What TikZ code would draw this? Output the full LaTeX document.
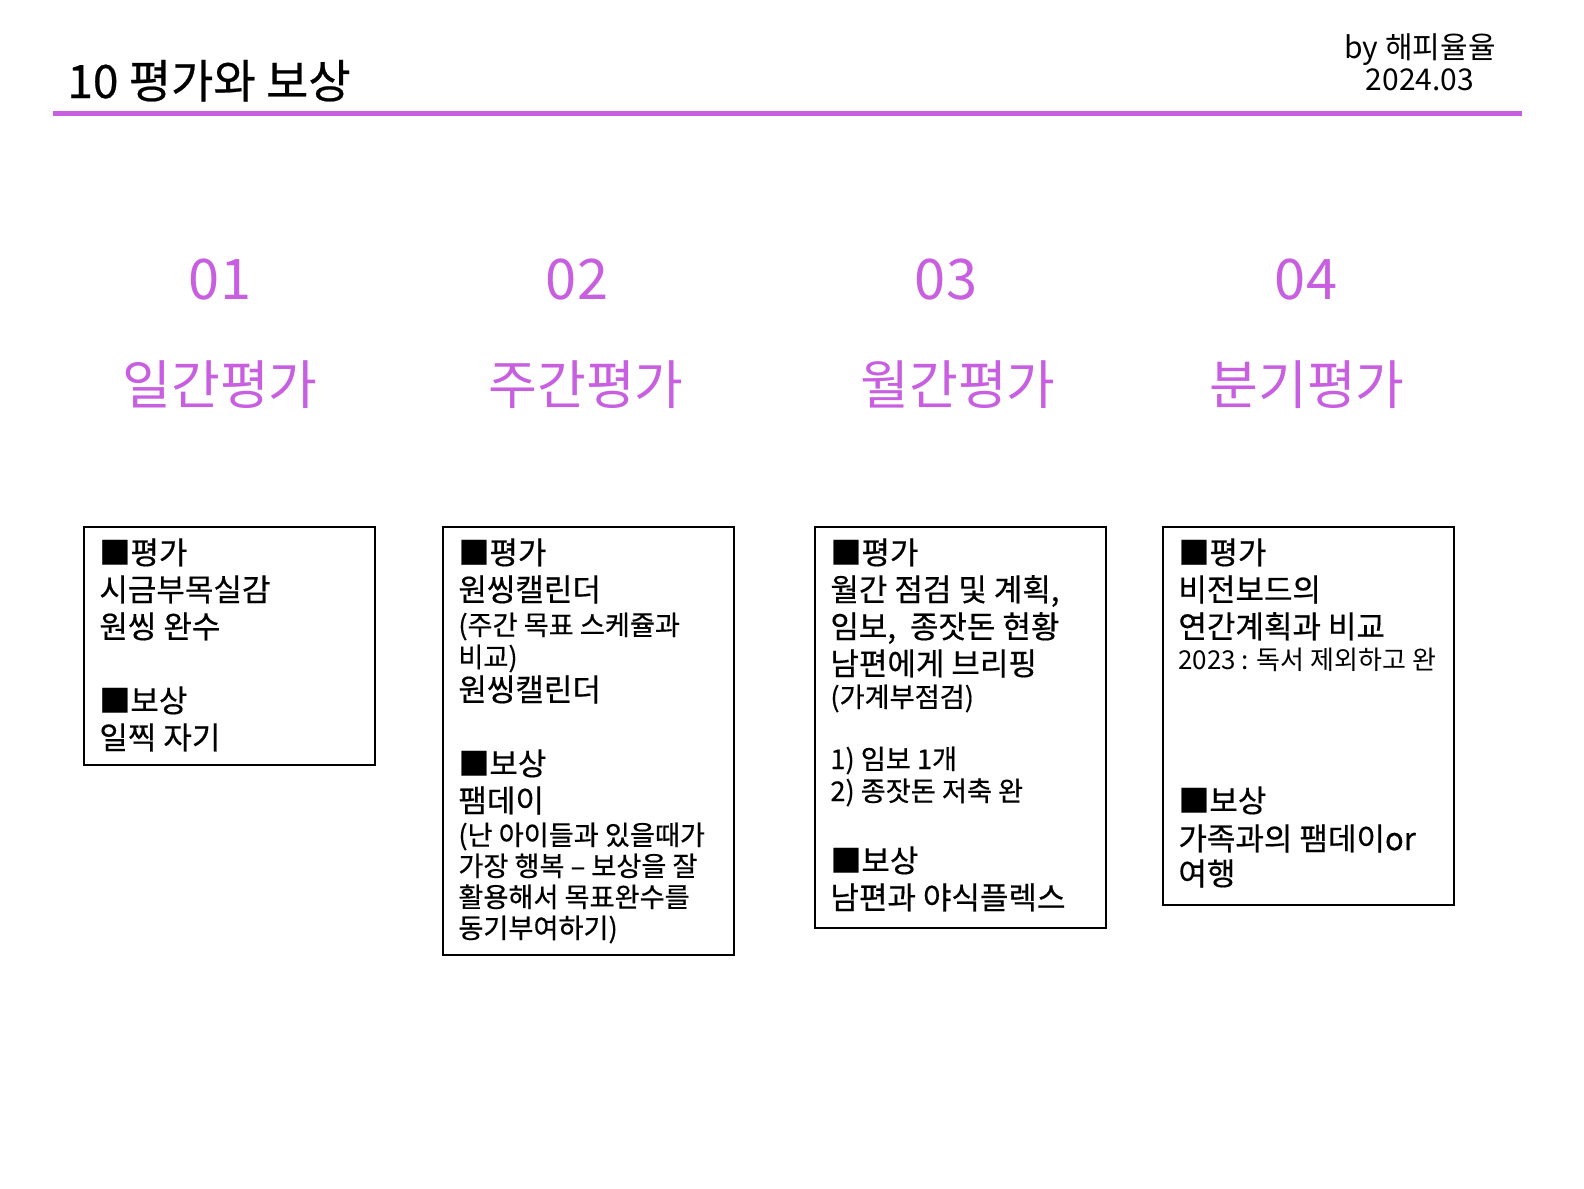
\documentclass[tikz,border=0pt]{standalone}
\usepackage{fontspec}
\setmainfont{Noto Sans CJK KR}
\newfontfamily\cardfont{Noto Sans CJK KR}[FakeBold=0.5]
\usetikzlibrary{positioning}
\definecolor{headpurple}{RGB}{200,95,225}
\tikzstyle{card}=[%
  draw,
  line width=0.8pt,
  anchor=north west,
  minimum width=145.5pt,
  inner sep=0pt
]
\tikzstyle{cardtext}=[%
  anchor=north west,
  align=left,
  inner sep=0pt,
  font=\cardfont\fontsize{15.5pt}{18.5pt}\selectfont
]
\tikzstyle{number}=[text=headpurple, font=\fontsize{28pt}{30pt}\selectfont]
\tikzstyle{heading}=[text=headpurple, font=\fontsize{26.5pt}{28pt}\selectfont]
\newcommand{\sm}[1]{{\fontsize{13.6pt}{16pt}\selectfont #1}}

\begin{document}
\begin{tikzpicture}[x=0.5pt, y=-0.5pt]
      \useasboundingbox[fill=white] (0,0) rectangle (1584,1188);
      % header
      \node[anchor=base west, inner sep=0pt, font=\cardfont\fontsize{23pt}{24pt}\selectfont] (title) at (67,98) {10 평가와 보상};
      \node[align=center, inner sep=0pt, font=\fontsize{15pt}{16pt}\selectfont] (sign) at (1420,62) {by 해피율율\\2024.03};
      \coordinate (ruleL) at (53,114);
      \coordinate (ruleR) at (1522,114);
      \draw[headpurple, line width=2.5pt] (ruleL) -- (ruleR);
      \foreach \i/\nx/\lx/\word in {1/220/220/일간평가, 2/577/586/주간평가, 3/946/958/월간평가, 4/1306/1307/분기평가} {%
        \node[number] (num\i) at (\nx,280) {0\i};
        \node[heading] (head\i) at (\lx,385) {\word};
      }
      % cards
      \node[card, minimum height=119pt] (b1) at (83,526) {};
      \node[card, minimum height=214pt] (b2) at (442,526) {};
      \node[card, minimum height=200.5pt] (b3) at (814,526) {};
      \node[card, minimum height=189pt] (b4) at (1162,526) {};
      \node[cardtext, below right=6pt and 8pt of b1.north west] (t1) {%
        ■평가\\
        시금부목실감\\
        원씽 완수\\[18.5pt]
        ■보상\\
        일찍 자기};
      \node[cardtext, below right=6pt and 8pt of b2.north west] (t2) {%
        ■평가\\
        원씽캘린더\\[-1.5pt]
        \sm{(주간 목표 스케쥴과}\\[-2.5pt]
        \sm{비교)}\\[-1.5pt]
        원씽캘린더\\[18.5pt]
        ■보상\\
        팸데이\\[-2pt]
        \sm{(난 아이들과 있을때가}\\[-3pt]
        \sm{가장 행복 – 보상을 잘}\\[-3pt]
        \sm{활용해서 목표완수를}\\[-3pt]
        \sm{동기부여하기)}};
      \node[cardtext, below right=6pt and 8pt of b3.north west] (t3) {%
        ■평가\\
        월간 점검 및 계획,\\
        임보,~~종잣돈 현황\\
        남편에게 브리핑\\[-2.5pt]
        \sm{(가계부점검)}\\[12.5pt]
        \sm{1) 임보 1개}\\[-2.5pt]
        \sm{2) 종잣돈 저축 완}\\[17pt]
        ■보상\\
        남편과 야식플렉스};
      \node[cardtext, below right=6pt and 8pt of b4.north west] (t4) {%
        ■평가\\
        비전보드의\\
        연간계획과 비교\\[-3pt]
        {\normalfont\fontsize{13pt}{16pt}\selectfont 2023 : 독서 제외하고 완}\\[53pt]
        ■보상\\[0.5pt]
        가족과의 팸데이or\\[-1pt]
        여행};
    \end{tikzpicture}
\end{document}
